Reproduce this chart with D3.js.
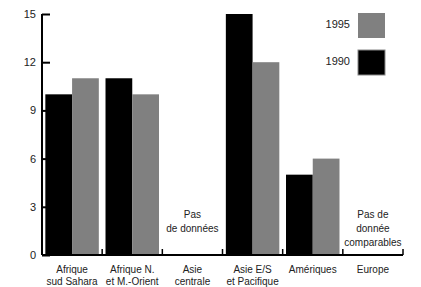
<!DOCTYPE html>
<html>
<head>
<meta charset="utf-8">
<script src="https://cdn.jsdelivr.net/npm/d3@7"></script>
<style>
  body { margin: 0; background: #fff; }
  text { font-family: "Liberation Sans", Arial, sans-serif; font-size: 10px; fill: #222; }
</style>
</head>
<body>
<svg id="chart" width="421" height="287"></svg>
<script>
// categories (label lines) and values; null = no data
const categories = ['Afrique sud Sahara', 'Afrique N. et M.-Orient', 'Asie centrale', 'Asie E/S et Pacifique', 'Amériques', 'Europe']
const categoryLines = [['Afrique', 'sud Sahara'], ['Afrique N.', 'et M.-Orient'], ['Asie', 'centrale'], ['Asie E/S', 'et Pacifique'], ['Amériques'], ['Europe']]
const values1990 = [10, 11, null, 15, 5, null]
const values1995 = [11, 10, null, 12, 6, null]
const noDataNotes = [null, null, ['Pas', 'de données'], null, null, ['Pas de', 'donnée', 'comparables']]
const yTicks = [0, 3, 6, 9, 12, 15]
const seriesNames = ['1995', '1990']

const svg = d3.select('#chart')
const plotLeft = 42, plotRight = 403, plotTop = 14, plotBottom = 255

const x = d3.scaleBand().domain(categories).range([plotLeft, plotRight])
const y = d3.scaleLinear().domain([0, 15]).range([plotBottom, plotTop])
const inner = d3.scaleBand().domain(['1990', '1995']).range([0, x.bandwidth()]).paddingOuter(0.125).paddingInner(0)

const colors = {'1990': '#000', '1995': '#808080'}

// bars
const bars = svg.append('g')
categories.forEach((c, i) => {
  [['1990', values1990[i]], ['1995', values1995[i]]].forEach(([s, v]) => {
    if (v == null) return
    bars.append('rect')
      .attr('x', x(c) + inner(s))
      .attr('y', y(v))
      .attr('width', inner.bandwidth())
      .attr('height', y(0) - y(v))
      .attr('fill', colors[s])
  })
})

// y axis
const yAxis = svg.append('g').attr('transform', `translate(${plotLeft},0)`)
  .call(d3.axisRight(y).tickValues(yTicks).tickSize(8).tickFormat(''))
yAxis.select('.domain').attr('stroke-width', 2).attr('d', `M0,${plotTop}V${plotBottom}`)
yAxis.selectAll('.tick line').attr('stroke-width', 2)
svg.append('g').selectAll('text').data(yTicks).join('text')
  .attr('x', 36).attr('y', d => y(d) + 4)
  .attr('text-anchor', 'end')
  .style('font-size', '11px')
  .text(d => d)

// x axis with boundary ticks
const xAxis = svg.append('g')
xAxis.append('line').attr('x1', plotLeft).attr('x2', plotRight).attr('y1', plotBottom).attr('y2', plotBottom)
  .attr('stroke', '#000').attr('stroke-width', 2)
const bounds = categories.map(c => x(c)).concat([plotRight]).slice(1)
xAxis.selectAll('.bt').data(bounds).join('line')
  .attr('x1', d => d).attr('x2', d => d).attr('y1', plotBottom).attr('y2', plotBottom - 6)
  .attr('stroke', '#000').attr('stroke-width', 1.5)

// category labels
categories.forEach((c, i) => {
  const t = svg.append('text').attr('text-anchor', 'middle')
  categoryLines[i].forEach((l, j) => {
    t.append('tspan').attr('x', x(c) + x.bandwidth() / 2).attr('y', 273 + j * 12).text(l)
  })
})

// no-data notes
categories.forEach((c, i) => {
  if (!noDataNotes[i]) return
  const t = svg.append('text').attr('text-anchor', 'middle')
  noDataNotes[i].forEach((l, j) => {
    t.append('tspan').attr('x', x(c) + x.bandwidth() / 2).attr('y', 218 + j * 14).text(l)
  })
})

// legend
const legend = svg.append('g')
seriesNames.forEach((s, i) => {
  const ly = 13 + i * 37
  legend.append('rect').attr('x', 358).attr('y', ly).attr('width', 27).attr('height', 25)
    .attr('fill', colors[s]).attr('stroke', s === '1990' ? '#888' : 'none').attr('stroke-width', 1)
  legend.append('text').attr('x', 350).attr('y', ly + 15).attr('text-anchor', 'end')
    .style('font-size', '11px').text(s)
})
</script>
</body>
</html>
